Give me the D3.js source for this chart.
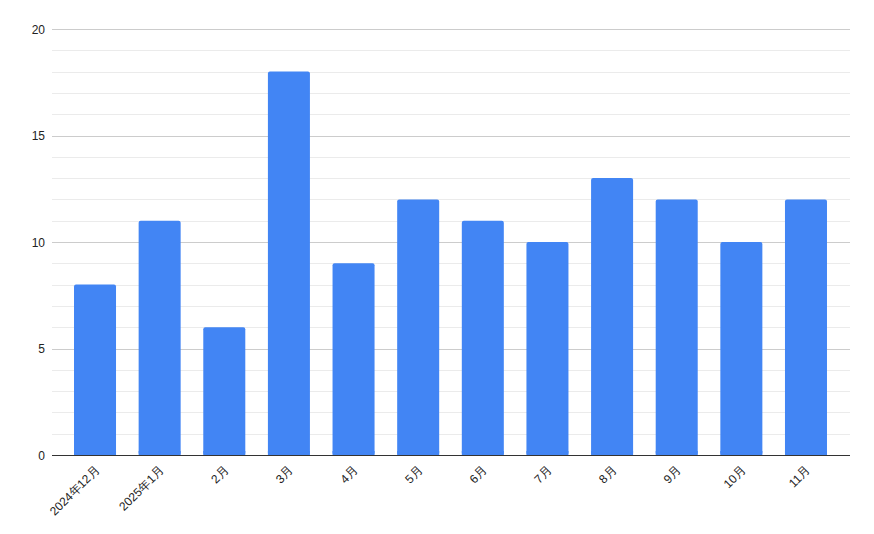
<!DOCTYPE html>
<html><head><meta charset="utf-8">
<script src="https://cdn.jsdelivr.net/npm/d3@7/dist/d3.min.js"></script>
<style>body{margin:0;background:#fff;}svg{display:block;font-family:"Liberation Sans",Arial,sans-serif;}</style>
</head><body>
<svg id="c" width="874" height="534"></svg>
<script>
const categories = ["2024年12月","2025年1月","2月","3月","4月","5月","6月","7月","8月","9月","10月","11月"];
const values = [8,11,6,18,9,12,11,10,13,12,10,12];
const majorTicks = [0,5,10,15,20];
const minorTicks = d3.range(0,21,1);

const svg = d3.select("#c");
const plot = {left:52, right:850, top:29, bottom:455};
const x = d3.scaleBand().domain(categories).range([62.7,838.3]).paddingInner(0.35).paddingOuter(0.175);
const y = d3.scaleLinear().domain([0,20]).range([plot.bottom, plot.top]);

// minor gridlines
svg.append("g").selectAll("line").data(minorTicks.filter(d=>!majorTicks.includes(d)))
  .join("line").attr("x1",plot.left).attr("x2",plot.right)
  .attr("y1",d=>Math.round(y(d))+0.5).attr("y2",d=>Math.round(y(d))+0.5)
  .attr("stroke","#ebebeb").attr("stroke-width",1);
// major gridlines
svg.append("g").selectAll("line").data(majorTicks.filter(d=>d!==0))
  .join("line").attr("x1",plot.left).attr("x2",plot.right)
  .attr("y1",d=>Math.round(y(d))+0.5).attr("y2",d=>Math.round(y(d))+0.5)
  .attr("stroke","#cccccc").attr("stroke-width",1);

// y axis labels
const yAxis = d3.axisLeft(y).tickValues(majorTicks).tickSize(0).tickPadding(0);
const ya = svg.append("g").attr("transform",`translate(45,0)`).call(yAxis);
ya.select(".domain").remove();
ya.selectAll("text").attr("font-size",12).attr("fill","#222").attr("font-family","Liberation Sans, Arial, sans-serif").attr("dy","0.35em");

// bars
svg.append("g").selectAll("rect").data(values).join("rect")
  .attr("x",(d,i)=>x(categories[i])).attr("width",x.bandwidth())
  .attr("y",d=>y(d)).attr("height",d=>y(0)-y(d))
  .attr("rx",2).attr("fill","#4285f4");
// cover bottom rounding
svg.append("g").selectAll("rect").data(values).join("rect")
  .attr("x",(d,i)=>x(categories[i])).attr("width",x.bandwidth())
  .attr("y",d=>y(0)-4).attr("height",4).attr("fill","#4285f4");

// baseline
svg.append("line").attr("x1",plot.left).attr("x2",plot.right)
  .attr("y1",plot.bottom+0.5).attr("y2",plot.bottom+0.5).attr("stroke","#333").attr("stroke-width",1);

// x axis labels
const xAxis = d3.axisBottom(x).tickSize(0).tickPadding(0);
const xa = svg.append("g").attr("transform",`translate(0,${plot.bottom})`).call(xAxis);
xa.select(".domain").remove();
xa.selectAll("text").attr("font-size",12).attr("fill","#222")
  .attr("font-family","Liberation Sans, Arial, sans-serif")
  .attr("text-anchor","end").attr("dy",0).attr("y",0)
  .attr("transform","translate(5,16) rotate(-45)");
</script>
</body></html>
